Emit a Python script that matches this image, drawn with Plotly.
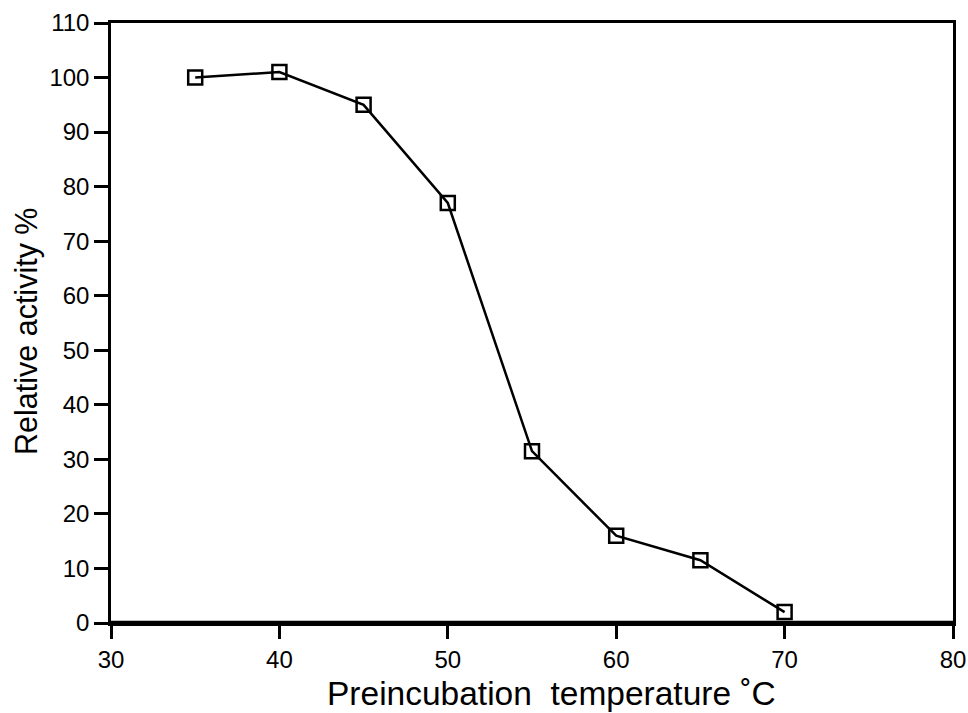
import plotly.graph_objects as go

temperature = [35, 40, 45, 50, 55, 60, 65, 70]
relative_activity = [100, 101, 95, 77, 31.5, 16, 11.5, 2]
x_ticks = [30, 40, 50, 60, 70, 80]
y_ticks = list(range(0, 111, 10))
x_title = "Preincubation\u00a0\u00a0temperature \u02daC"
y_title = "Relative activity %"

fig = go.Figure()
fig.add_trace(go.Scatter(
    x=temperature, y=relative_activity, mode="lines+markers",
    line=dict(color="black", width=2.5),
    marker=dict(symbol="square-open", size=14, color="black", line=dict(width=2.5)),
    showlegend=False, cliponaxis=False,
))

font = "Liberation Sans, Arial, sans-serif"
fig.update_layout(
    width=968, height=713,
    margin=dict(l=111, r=15, t=23, b=90),
    paper_bgcolor="white", plot_bgcolor="white",
    font=dict(family=font, color="black"),
    xaxis=dict(range=[30, 80], tickvals=x_ticks, ticks="outside", ticklen=13, tickwidth=2.5,
               tickcolor="black", showline=True, linecolor="black", linewidth=2.5, mirror=True,
               showgrid=False, zeroline=False, tickfont=dict(size=24, family=font),
               automargin=False),
    yaxis=dict(range=[0, 110], tickvals=y_ticks, ticks="outside", ticklen=14, tickwidth=2.5,
               tickcolor="black", showline=True, linecolor="black", linewidth=2.5, mirror=True,
               showgrid=False, zeroline=False, tickfont=dict(size=24, family=font),
               automargin=False),
    shapes=[dict(type="line", xref="paper", x0=0, x1=1, yref="y", y0=0, y1=0,
                 line=dict(color="black", width=4.5), layer="below")],
    annotations=[
        dict(text=x_title, xref="paper", yref="paper", x=(551 - 111) / 842, y=-(693 - 623) / 600,
             xanchor="center", yanchor="middle", showarrow=False, font=dict(size=33.5, family=font)),
        dict(text=y_title, xref="paper", yref="paper", x=-(111 - 26) / 842, y=(623 - 332) / 600,
             xanchor="center", yanchor="middle", textangle=-90, showarrow=False,
             font=dict(size=30.5, family=font)),
    ],
)
fig.write_html("out.html")
